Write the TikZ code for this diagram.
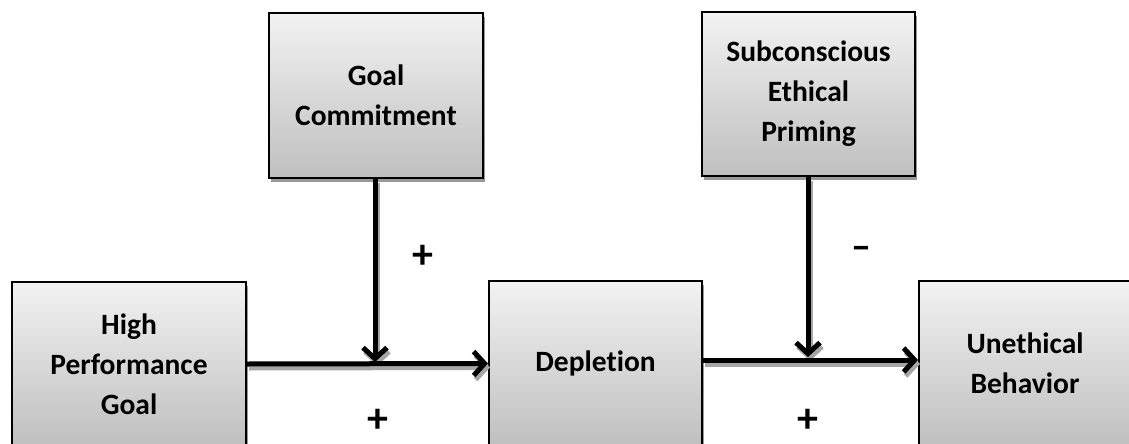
\documentclass[tikz,border=0pt]{standalone}
\usepackage{fontspec}
\setmainfont{Carlito}[RawFeature=-liga]
\usetikzlibrary{arrows.meta,shadows}
\tikzset{
  box/.style={draw=black, line width=2pt, top color=gray!10, bottom color=gray!50,
    align=center, inner sep=0pt,
    font=\bfseries\fontsize{29.5}{40}\selectfont,
    drop shadow={shadow xshift=2pt,shadow yshift=-4pt,fill=black!40,opacity=1}},
  conn/.style={line width=5pt, -{Straight Barb[length=11pt,width=24pt]}},
  connshadow/.style={conn, draw=black!35, transform canvas={xshift=2pt,yshift=-4pt}},
  sign/.style={font=\bfseries\fontsize{42}{42}\selectfont, inner sep=0pt},
  msign/.style={font=\bfseries\fontsize{40}{40}\selectfont, inner sep=0pt}
}
\begin{document}
\begin{tikzpicture}[x=1pt,y=-1pt]
\useasboundingbox (0,0) rectangle (1129,444);
\clip (0,0) rectangle (1129,444);
\fill[white] (0,0) rectangle (1129,444);
\node[box, minimum width=214pt, minimum height=165pt] (gc) at (376,95.5) {Goal\\Commitment};
\node[box, minimum width=213pt, minimum height=164pt] (sep) at (808.5,94) {Subconscious\\Ethical\\Priming};
\node[box, minimum width=234pt, minimum height=164pt] (hpg) at (129,364) {High\\Performance\\Goal};
\node[box, minimum width=213pt, minimum height=165pt] (dep) at (595.5,363.5) {Depletion};
\node[box, minimum width=212pt, minimum height=165pt] (ueb) at (1025,363.5) {Unethical\\Behavior};
\coordinate (m1) at (375,362);
\coordinate (m2) at (808,357);
% shadows of connectors
\draw[connshadow] (hpg.east) -- (dep.west);
\draw[connshadow] ([yshift=3.5pt]dep.east) -- ([yshift=3.5pt]ueb.west);
\draw[connshadow] (gc.south -| m1) -- (m1);
\draw[connshadow] (sep.south -| m2) -- (m2);
% connectors
\draw[conn] (hpg.east) -- (dep.west);
\draw[conn] ([yshift=3.5pt]dep.east) -- ([yshift=3.5pt]ueb.west);
\draw[conn] (gc.south -| m1) -- (m1);
\draw[conn] (sep.south -| m2) -- (m2);
% signs
\node[sign] (p1) at (423,257) {+};
\node[sign] (p2) at (378,421) {+};
\node[sign] (p3) at (808,421) {+};
\node[msign] (n1) at (861,253) {–};
\end{tikzpicture}
\end{document}
